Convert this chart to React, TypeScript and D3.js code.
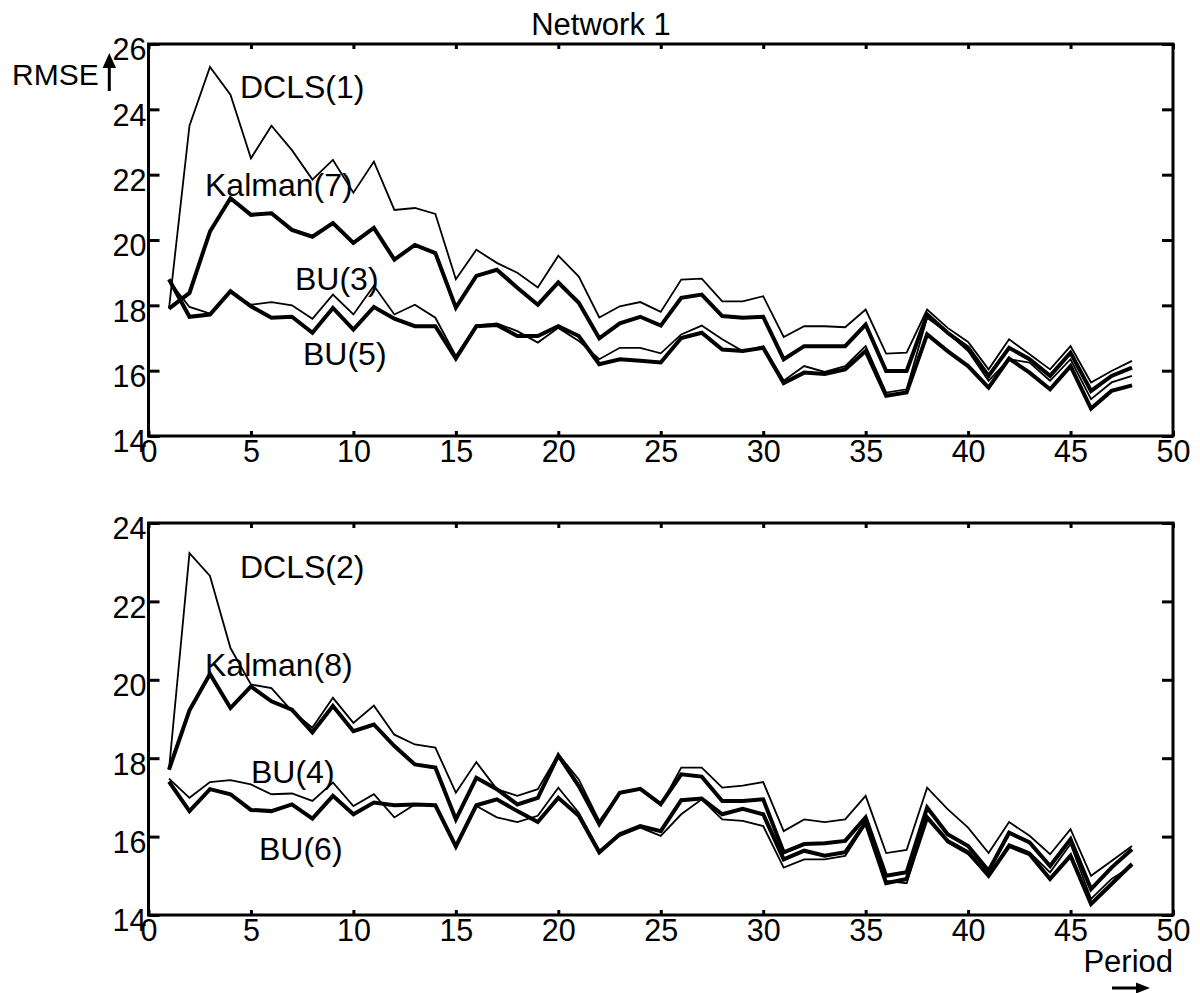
import React, { useEffect, useRef } from 'react';
import * as d3 from 'd3';

// periods 1..48
const periods = d3.range(1, 49);

// Network 1, upper panel
const dcls1 = [17.9, 23.5, 25.3, 24.45, 22.5, 23.5, 22.75, 21.85, 22.45, 21.45, 22.4, 20.92, 20.98, 20.8, 18.8, 19.7, 19.3, 19.0, 18.55, 19.52, 18.88, 17.63, 17.97, 18.1, 17.8, 18.79, 18.82, 18.12, 18.12, 18.28, 17.03, 17.36, 17.36, 17.33, 17.87, 16.52, 16.55, 17.87, 17.31, 16.88, 16.04, 16.96, 16.5, 16.04, 16.75, 15.64, 15.99, 16.3];
const kalman7 = [17.9, 18.38, 20.26, 21.28, 20.77, 20.82, 20.31, 20.1, 20.52, 19.91, 20.37, 19.4, 19.85, 19.6, 17.93, 18.9, 19.09, 18.54, 18.02, 18.7, 18.08, 16.99, 17.45, 17.65, 17.38, 18.23, 18.33, 17.67, 17.62, 17.65, 16.35, 16.75, 16.75, 16.75, 17.41, 15.99, 15.99, 17.72, 17.16, 16.7, 15.84, 16.7, 16.35, 15.84, 16.55, 15.38, 15.84, 16.09];
const bu3 = [18.75, 17.95, 17.75, 18.4, 18.02, 18.1, 18.0, 17.59, 18.33, 17.72, 18.6, 17.72, 18.02, 17.62, 16.45, 17.38, 17.45, 17.21, 16.86, 17.31, 16.91, 16.35, 16.7, 16.7, 16.53, 17.11, 17.38, 16.96, 16.6, 16.75, 15.69, 16.14, 15.96, 16.14, 16.75, 15.33, 15.43, 17.62, 17.16, 16.6, 15.69, 16.35, 16.25, 15.69, 16.35, 15.13, 15.64, 15.84];
const bu5 = [18.8, 17.65, 17.72, 18.43, 17.97, 17.62, 17.65, 17.16, 17.92, 17.26, 17.95, 17.59, 17.36, 17.36, 16.37, 17.36, 17.4, 17.06, 17.06, 17.36, 17.06, 16.2, 16.35, 16.3, 16.25, 17.0, 17.16, 16.65, 16.6, 16.7, 15.62, 15.94, 15.9, 16.04, 16.6, 15.23, 15.33, 17.11, 16.6, 16.14, 15.48, 16.37, 15.94, 15.43, 16.14, 14.84, 15.38, 15.55];

// lower panel
const dcls2 = [17.71, 23.23, 22.65, 20.81, 19.88, 19.79, 19.2, 18.78, 19.54, 18.9, 19.34, 18.6, 18.35, 18.27, 17.12, 17.9, 17.21, 17.04, 17.21, 18.1, 17.46, 16.4, 17.12, 17.22, 16.8, 17.76, 17.76, 17.25, 17.3, 17.39, 16.14, 16.44, 16.37, 16.44, 17.04, 15.58, 15.66, 17.25, 16.7, 16.23, 15.58, 16.37, 16.02, 15.55, 16.19, 15.0, 15.38, 15.76];
const kalman8 = [17.71, 19.22, 20.15, 19.28, 19.83, 19.45, 19.24, 18.66, 19.33, 18.69, 18.86, 18.31, 17.84, 17.76, 16.44, 17.5, 17.21, 16.82, 16.99, 18.07, 17.29, 16.32, 17.12, 17.22, 16.83, 17.59, 17.53, 16.91, 16.91, 16.95, 15.6, 15.81, 15.83, 15.89, 16.49, 15.0, 15.09, 16.74, 16.06, 15.76, 15.13, 16.1, 15.85, 15.25, 15.93, 14.66, 15.21, 15.68];
const bu4 = [17.48, 16.99, 17.39, 17.44, 17.33, 17.08, 17.1, 16.91, 17.38, 16.78, 17.08, 16.49, 16.82, 16.8, 15.72, 16.78, 16.49, 16.37, 16.53, 17.25, 16.61, 15.64, 16.02, 16.23, 16.02, 16.57, 16.95, 16.44, 16.4, 16.27, 15.21, 15.42, 15.42, 15.51, 16.32, 14.87, 14.81, 16.53, 15.85, 15.55, 15.0, 15.81, 15.6, 15.09, 15.81, 14.41, 14.92, 15.25];
const bu6 = [17.4, 16.65, 17.21, 17.08, 16.68, 16.65, 16.82, 16.46, 17.04, 16.57, 16.87, 16.8, 16.82, 16.8, 15.75, 16.8, 16.95, 16.65, 16.37, 16.99, 16.53, 15.6, 16.06, 16.27, 16.14, 16.93, 16.97, 16.57, 16.71, 16.57, 15.42, 15.64, 15.51, 15.6, 16.36, 14.81, 14.92, 16.49, 15.89, 15.6, 15.0, 15.76, 15.55, 14.92, 15.51, 14.28, 14.79, 15.3];

const xTicks = [0, 5, 10, 15, 20, 25, 30, 35, 40, 45, 50];
const yTicksTop = [14, 16, 18, 20, 22, 24, 26];
const yTicksBottom = [14, 16, 18, 20, 22, 24];

const FONT = '"Liberation Sans", Arial, sans-serif';

const panels = [
  {
    top: 44, bottom: 436, yDomain: [14, 26], yTicks: yTicksTop,
    series: [
      { name: 'DCLS(1)', values: dcls1, width: 1.8, label: [240, 98] },
      { name: 'Kalman(7)', values: kalman7, width: 4, label: [205, 196] },
      { name: 'BU(3)', values: bu3, width: 1.8, label: [295, 290] },
      { name: 'BU(5)', values: bu5, width: 4, label: [303, 365] },
    ],
  },
  {
    top: 523, bottom: 915, yDomain: [14, 24], yTicks: yTicksBottom,
    series: [
      { name: 'DCLS(2)', values: dcls2, width: 1.8, label: [240, 578] },
      { name: 'Kalman(8)', values: kalman8, width: 4, label: [205, 676] },
      { name: 'BU(4)', values: bu4, width: 1.8, label: [251, 783] },
      { name: 'BU(6)', values: bu6, width: 4, label: [259, 860] },
    ],
  },
];

export default function App() {
  const ref = useRef<SVGSVGElement>(null);

  useEffect(() => {
    const svg = d3.select(ref.current);
    svg.selectAll('*').remove();
    const left = 148.5, right = 1173;
    const x = d3.scaleLinear().domain([0, 50]).range([left, right]);

    panels.forEach((p) => {
      const y = d3.scaleLinear().domain(p.yDomain).range([p.bottom, p.top]);
      const g = svg.append('g');

      // lines
      const line = d3.line<number>().x((d, i) => x(periods[i])).y((d) => y(d));
      p.series.forEach((s) => {
        g.append('path')
          .datum(s.values)
          .attr('d', line)
          .attr('fill', 'none')
          .attr('stroke', '#000')
          .attr('stroke-width', s.width)
          .attr('stroke-linejoin', 'miter');
      });

      // axes
      const bottomAxis = g.append('g').attr('transform', `translate(0,${p.bottom})`)
        .call(d3.axisBottom(x).tickValues(xTicks).tickSize(-5).tickPadding(4).tickFormat(d3.format('d')));
      const topAxis = g.append('g').attr('transform', `translate(0,${p.top})`)
        .call(d3.axisTop(x).tickValues(xTicks).tickSize(-5).tickFormat(() => ''));
      const leftAxis = g.append('g').attr('transform', `translate(${left},0)`)
        .call(d3.axisLeft(y).tickValues(p.yTicks).tickSize(-11).tickPadding(2).tickFormat(d3.format('d')));
      const rightAxis = g.append('g').attr('transform', `translate(${right},0)`)
        .call(d3.axisRight(y).tickValues(p.yTicks).tickSize(-11).tickFormat(() => ''));

      [bottomAxis, topAxis, leftAxis, rightAxis].forEach((a) => {
        a.select('.domain').remove();
        a.selectAll('line').attr('stroke', '#000').attr('stroke-width', 3);
        a.selectAll('text').attr('fill', '#000').style('font-family', FONT).style('font-size', '30.5px');
      });
      leftAxis.selectAll('text').attr('dy', '0.52em');

      g.append('rect')
        .attr('x', left).attr('y', p.top)
        .attr('width', right - left).attr('height', p.bottom - p.top)
        .attr('fill', 'none').attr('stroke', '#000').attr('stroke-width', 3);

      // series labels
      p.series.forEach((s) => {
        g.append('text')
          .attr('x', s.label[0]).attr('y', s.label[1])
          .style('font-family', FONT).style('font-size', '32px')
          .text(s.name);
      });
    });

    // title
    svg.append('text').attr('x', 601).attr('y', 35).attr('text-anchor', 'middle')
      .style('font-family', FONT).style('font-size', '31px').text('Network 1');

    // RMSE with up arrow
    svg.append('text').attr('x', 12).attr('y', 85)
      .style('font-family', FONT).style('font-size', '30px').text('RMSE');
    svg.append('line').attr('x1', 109.3).attr('x2', 109.3).attr('y1', 91).attr('y2', 64)
      .attr('stroke', '#000').attr('stroke-width', 3);
    svg.append('path').attr('d', 'M109.3,53 L102.6,68 L116,68 Z').attr('fill', '#000');

    // Period with right arrow
    svg.append('text').attr('x', 1173).attr('y', 972).attr('text-anchor', 'end')
      .style('font-family', FONT).style('font-size', '31px').text('Period');
    svg.append('line').attr('x1', 1112).attr('x2', 1140).attr('y1', 988).attr('y2', 988)
      .attr('stroke', '#000').attr('stroke-width', 3);
    svg.append('path').attr('d', 'M1150,988 L1136,982.5 L1136,993.5 Z').attr('fill', '#000');
  }, []);

  return (
    <svg ref={ref} width={1200} height={993}
      style={{ position: 'absolute', left: 0, top: 0, background: '#fff' }} />
  );
}
